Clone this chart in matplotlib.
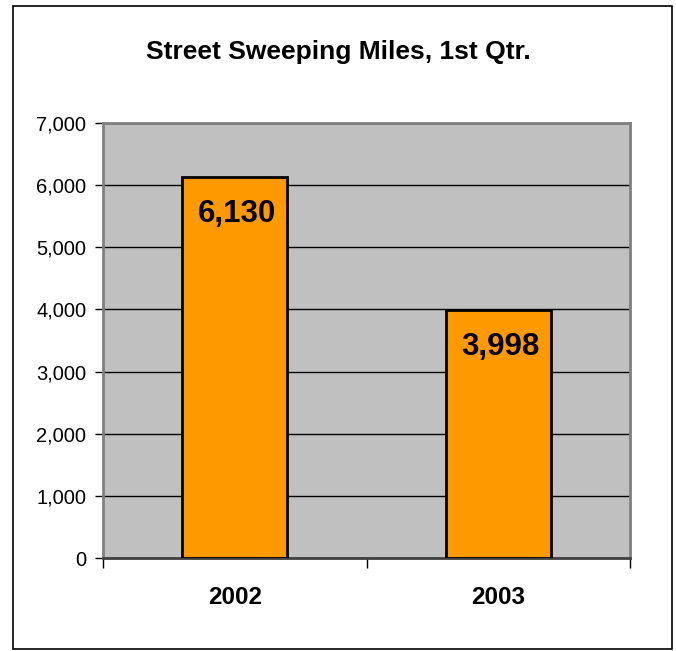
import matplotlib
matplotlib.use("Agg")
import matplotlib.pyplot as plt
from matplotlib.patches import Rectangle
from matplotlib.ticker import FuncFormatter, MultipleLocator

years = ["2002", "2003"]
miles = [6130, 3998]
title = "Street Sweeping Miles, 1st Qtr."

plt.rcParams["font.family"] = ["Liberation Sans", "DejaVu Sans"]

fig = plt.figure(figsize=(6.76, 6.51), dpi=100)
W, H = 676, 651
ax = fig.add_axes([103 / W, 1 - 558 / H, (630 - 103) / W, (558 - 123) / H])

positions = [0.5 + i for i in range(len(years))]
ax.bar(positions, miles, width=0.4, color="#FF9900", edgecolor="black", linewidth=2, zorder=3)
for x, v in zip(positions, miles):
  ax.annotate(f"{v:,}", (x, v), xytext=(2.5, -37), textcoords="offset pixels",
              ha="center", va="center", fontsize=22.5, fontweight="bold", zorder=4)

ax.set_facecolor("#C0C0C0")
ax.set_xlim(0, len(years))
ax.set_ylim(0, 7000)
ax.yaxis.set_major_locator(MultipleLocator(1000))
ax.yaxis.set_major_formatter(FuncFormatter(lambda v, _: f"{v:,.0f}"))
ax.yaxis.grid(True, color="black", linewidth=1, zorder=1)
ax.set_axisbelow(True)

ax.set_xticks(range(len(years) + 1))
ax.set_xticklabels([])
ax.set_xticks(positions, minor=True)
ax.set_xticklabels(years, minor=True, fontsize=17.5, fontweight="bold")
ax.tick_params(axis="x", which="minor", length=0, pad=20)
ax.tick_params(axis="x", which="major", length=7, width=1, direction="out")
ax.tick_params(axis="y", length=6, width=1, direction="out", labelsize=14.5, pad=6)

for side in ["top", "right", "left"]:
  ax.spines[side].set_color("#808080")
  ax.spines[side].set_linewidth(2)
ax.spines["bottom"].set_color("#404040")
ax.spines["bottom"].set_linewidth(2)

fig.text(0.5, 1 - 52 / H, title, ha="center", va="center", fontsize=19, fontweight="bold")

fig.patches.append(Rectangle((13 / W, 1 - 649 / H), (672 - 13) / W, (649 - 6) / H,
                             transform=fig.transFigure, fill=False, edgecolor="black",
                             linewidth=1.2))

fig.savefig("out.png", dpi=100)
